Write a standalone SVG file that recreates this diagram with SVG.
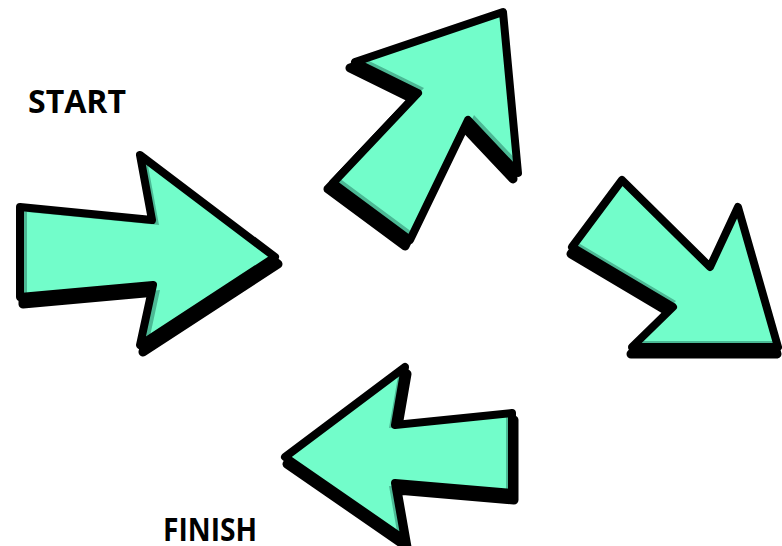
<svg xmlns="http://www.w3.org/2000/svg" width="782" height="546" viewBox="0 0 782 546">
<style>
.sh{fill:#000;stroke:#000;stroke-width:9;stroke-linejoin:round}
.dk{fill:#4cb995}
.lt{fill:#72fdca}
.ol{fill:none;stroke:#000;stroke-width:8;stroke-linejoin:round}
.lbl{font-family:"Open Sans","Liberation Sans",sans-serif;font-weight:bold;font-size:32px;fill:#000}
</style>
<defs>
<clipPath id="c1"><polygon points="20,207 152,220 140,155 275,257 140,345 153,285 20,297"/></clipPath>
<clipPath id="c2"><polygon points="333,183 418,93 355,62 503,12 518,173 468,120 410,240"/></clipPath>
<clipPath id="c3"><polygon points="622,180 710,267 738,207 778,347 632,347 673,307 572,247"/></clipPath>
<clipPath id="c4"><polygon points="285,457 405,367 395,425 512,413 512,493 395,483 405,540"/></clipPath>
</defs>
<g id="arrow-start">
<polygon class="sh" transform="translate(3,7)" points="20,207 152,220 140,155 275,257 140,345 153,285 20,297"/>
<g clip-path="url(#c1)">
<polygon class="dk" points="20,207 152,220 140,155 275,257 140,345 153,285 20,297"/>
<polygon class="lt" transform="translate(7,5)" points="20,207 152,220 140,155 275,257 140,345 153,285 20,297"/>
</g>
<polygon class="ol" points="20,207 152,220 140,155 275,257 140,345 153,285 20,297"/>
</g>
<g id="arrow-up">
<polygon class="sh" transform="translate(-5,6)" points="333,183 418,93 355,62 503,12 518,173 468,120 410,240"/>
<g clip-path="url(#c2)">
<polygon class="dk" points="333,183 418,93 355,62 503,12 518,173 468,120 410,240"/>
<polygon class="lt" transform="translate(6,-5)" points="333,183 418,93 355,62 503,12 518,173 468,120 410,240"/>
</g>
<polygon class="ol" points="333,183 418,93 355,62 503,12 518,173 468,120 410,240"/>
</g>
<g id="arrow-down">
<polygon class="sh" transform="translate(-1,7)" points="622,180 710,267 738,207 778,347 632,347 673,307 572,247"/>
<g clip-path="url(#c3)">
<polygon class="dk" points="622,180 710,267 738,207 778,347 632,347 673,307 572,247"/>
<polygon class="lt" transform="translate(3,-6)" points="622,180 710,267 738,207 778,347 632,347 673,307 572,247"/>
</g>
<polygon class="ol" points="622,180 710,267 738,207 778,347 632,347 673,307 572,247"/>
</g>
<g id="arrow-finish">
<polygon class="sh" transform="translate(2,7)" points="285,457 405,367 395,425 512,413 512,493 395,483 405,540"/>
<g clip-path="url(#c4)">
<polygon class="dk" points="285,457 405,367 395,425 512,413 512,493 395,483 405,540"/>
<polygon class="lt" transform="translate(-6,3)" points="285,457 405,367 395,425 512,413 512,493 395,483 405,540"/>
</g>
<polygon class="ol" points="285,457 405,367 395,425 512,413 512,493 395,483 405,540"/>
</g>
<text class="lbl" x="28" y="113" textLength="98" lengthAdjust="spacingAndGlyphs">START</text>
<text class="lbl" x="163" y="541" font-size="31" textLength="94" lengthAdjust="spacingAndGlyphs">FINISH</text>
</svg>
